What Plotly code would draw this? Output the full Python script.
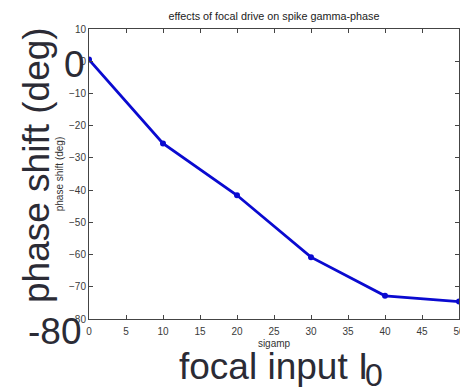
import plotly.graph_objects as go

# focal drive amplitude vs. resulting spike gamma-phase shift
sigamp = [0, 10, 20, 30, 40, 50]
phase_shift = [0.5, -25.5, -41.6, -60.8, -72.8, -74.6]

x_ticks = list(range(0, 55, 5))
y_ticks = list(range(-80, 20, 10))

W, H = 460, 388
ML, MR, MT, MB = 89, 1, 29, 69
PW, PH = W - ML - MR, H - MT - MB

FAMILY = "Liberation Sans, Arial, sans-serif"
small_font = dict(family=FAMILY, size=10, color="#3a3a3a")
label_font = dict(family=FAMILY, size=10, color="#333333")
big_font = dict(family=FAMILY, size=37, color="#2b2b35")

fig = go.Figure()
fig.add_trace(go.Scatter(
    x=sigamp, y=phase_shift, mode="lines+markers",
    line=dict(color="#0a0ad0", width=2.8),
    marker=dict(color="#0a0ad0", size=6),
    cliponaxis=True, showlegend=False,
))

axis_common = dict(
    showline=True, linecolor="#444444", linewidth=1, mirror="ticks",
    ticks="inside", ticklen=4, tickcolor="#444444", tickwidth=1,
    showgrid=False, zeroline=False, tickfont=small_font,
    ticklabeloverflow="allow", automargin=False,
)

fig.update_layout(
    width=W, height=H,
    margin=dict(l=ML, r=MR, t=MT, b=MB),
    paper_bgcolor="white", plot_bgcolor="white",
    title=dict(text="effects of focal drive on spike gamma-phase",
               x=0.5, xref="paper", xanchor="center",
               y=1 - 16 / H, yref="container", yanchor="middle",
               font=dict(family=FAMILY, size=10.8, color="#222222")),
    xaxis=dict(range=[0, 50], tickvals=x_ticks, ticklabelstandoff=3,
               title=dict(text="sigamp", font=label_font, standoff=3),
               **axis_common),
    yaxis=dict(range=[-80, 10], tickvals=y_ticks,
               title=dict(text="phase shift (deg)", font=label_font, standoff=3),
               **axis_common),
)


def add_label(text, px, py, font, angle=0):
    # px, py are page pixel positions of the label centre
    fig.add_annotation(text=text, textangle=angle,
                       x=(px - ML) / PW, y=(H - MB - py) / PH,
                       xref="paper", yref="paper", xanchor="center", yanchor="middle",
                       showarrow=False, font=font)


# large overlay labels
add_label("phase shift (deg)", 36, 165, big_font, angle=-90)
add_label("0", 74, 64, big_font)
add_label("-80", 54, 331, big_font)
add_label("focal input I", 273, 366, big_font)
add_label("0", 374, 375, dict(family=FAMILY, size=32, color=big_font["color"]))

fig.write_html("out.html")
